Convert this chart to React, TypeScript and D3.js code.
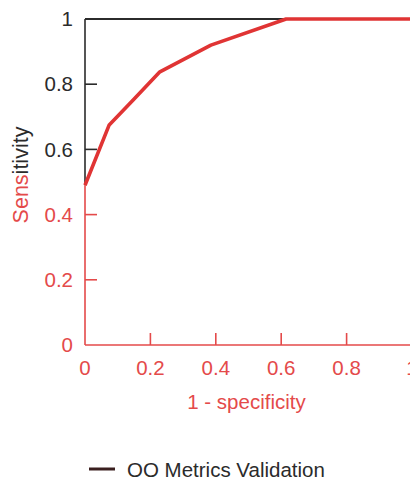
import React from "react";
import * as d3 from "d3";

const rocFpr = [0, 0.074, 0.148, 0.229, 0.385, 0.615, 1];
const rocTpr = [0.49, 0.675, 0.752, 0.838, 0.92, 1, 1];
const xTicks = [0, 0.2, 0.4, 0.6, 0.8, 1];
const yTicks = [0, 0.2, 0.4, 0.6, 0.8, 1];
const darkYTicks = [0.6, 0.8, 1];
const seriesName = "OO Metrics Validation";
const xTitle = "1 - specificity";
const yTitle = "Sensitivity";

const W = 410;
const H = 480;
const RED = "#e44a4a";
const LINE_RED = "#e03434";
const DARK = "#2b2b2b";
const FONT = "'Liberation Sans', Arial, sans-serif";

export default function App() {
  const x = d3.scaleLinear().domain([0, 1]).range([85, 412]);
  const y = d3.scaleLinear().domain([0, 1]).range([345, 19]);
  const pts: [number, number][] = rocFpr.map((f, i) => [f, rocTpr[i]]);
  const line = d3
    .line<[number, number]>()
    .x((d) => x(d[0]))
    .y((d) => y(d[1]));
  const startY = rocTpr[0];
  const topX = rocFpr[rocTpr.indexOf(1)];
  const fmt = (v: number) => (v === 0 || v === 1 ? String(v) : d3.format(".1f")(v));

  return (
    <svg
      width={W}
      height={H}
      style={{ position: "absolute", left: 0, top: 0, background: "#fff" }}
      fontFamily={FONT}
    >
      {/* top border */}
      <line x1={x(0)} x2={x(topX)} y1={y(1)} y2={y(1)} stroke={DARK} strokeWidth={2} />
      <line x1={x(topX)} x2={W} y1={y(1)} y2={y(1)} stroke={RED} strokeWidth={1.5} opacity={0.8} />
      {/* y axis */}
      <line x1={x(0)} x2={x(0)} y1={y(1)} y2={y(startY)} stroke={DARK} strokeWidth={1.6} />
      <line x1={x(0)} x2={x(0)} y1={y(startY)} y2={y(0)} stroke={RED} strokeWidth={1.6} />
      {/* x axis */}
      <line x1={x(0)} x2={W} y1={y(0)} y2={y(0)} stroke={RED} strokeWidth={1.6} />
      {yTicks.map((t) => {
        const dark = darkYTicks.includes(t);
        return (
          <g key={"y" + t}>
            {t > 0 && t < 1 && (
              <line x1={x(0)} x2={x(0) + 12} y1={y(t)} y2={y(t)} stroke={dark ? DARK : RED} strokeWidth={1.6} />
            )}
            <text
              x={73}
              y={y(t)}
              dy="0.35em"
              textAnchor="end"
              fontSize={20.5}
              fill={dark ? DARK : RED}
            >
              {fmt(t)}
            </text>
          </g>
        );
      })}
      {xTicks.map((t) => (
        <g key={"x" + t}>
          {t > 0 && t < 1 && (
            <line x1={x(t)} x2={x(t)} y1={y(0)} y2={y(0) - 12} stroke={RED} strokeWidth={1.6} />
          )}
          <text x={x(t)} y={375} textAnchor="middle" fontSize={20.5} fill={RED}>
            {fmt(t)}
          </text>
        </g>
      ))}
      <text x={x(0.5) - 2} y={409} textAnchor="middle" fontSize={20.5} fill={RED}>
        {xTitle}
      </text>
      <text
        transform={`translate(28,175) rotate(-90)`}
        textAnchor="middle"
        fontSize={21.5}
        fill={DARK}
      >
        <tspan fill={RED}>{yTitle.slice(0, 4)}</tspan>
        <tspan>{yTitle.slice(4)}</tspan>
      </text>
      {/* curve */}
      <path d={line(pts) || ""} fill="none" stroke={LINE_RED} strokeWidth={3.6} strokeLinejoin="round" />
      {/* legend */}
      <line x1={89} x2={115} y1={469} y2={469} stroke="#3a1f1f" strokeWidth={3} />
      <text x={127} y={477} fontSize={20.5} fill={DARK}>
        {seriesName}
      </text>
    </svg>
  );
}
